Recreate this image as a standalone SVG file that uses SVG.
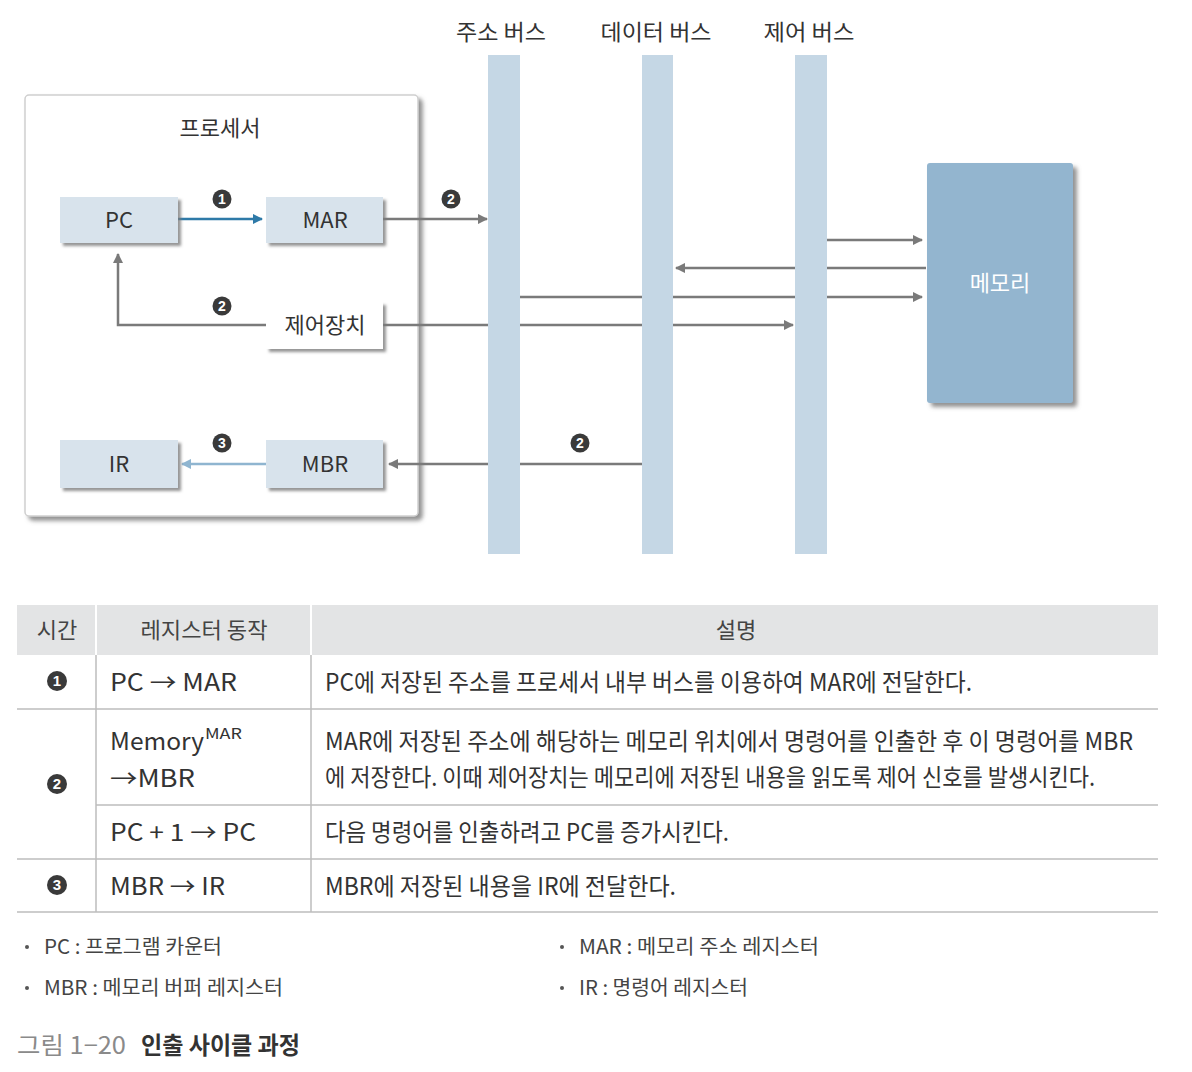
<svg xmlns="http://www.w3.org/2000/svg" width="1192" height="1072" viewBox="0 0 1192 1072">
<defs>
<style>
text{font-family:"Noto Sans CJK KR","Noto Sans",sans-serif;fill:#333;}
.reg{fill:#d8e3ec;}
.bus{fill:#c5d7e5;}
.ln{stroke:#7a7a7a;stroke-width:2.5;fill:none;}
.t22{font-size:22px;}
.t24{font-size:24px;}
.t20{font-size:20px;fill:#444;}
.num{font-size:14px;font-weight:bold;fill:#fff;font-family:"Liberation Sans",Arial,sans-serif;}
.dot{fill:#3a3a3a;}
.row{stroke:#bdbdbd;stroke-width:1.5;}
</style>
<filter id="sh" x="-10%" y="-10%" width="130%" height="140%">
<feDropShadow dx="3" dy="3" stdDeviation="1.5" flood-color="#7a7a7a" flood-opacity="0.8"/>
</filter>
<filter id="shb" x="-10%" y="-10%" width="130%" height="130%">
<feDropShadow dx="4" dy="4" stdDeviation="2" flood-color="#777" flood-opacity="0.8"/>
</filter>
<marker id="ag" viewBox="0 0 10 10" refX="9" refY="5" markerWidth="4.2" markerHeight="4.2" orient="auto" markerUnits="strokeWidth">
<path d="M0,0L10,5L0,10z" fill="#7a7a7a"/>
</marker>
<marker id="ab" viewBox="0 0 10 10" refX="9" refY="5" markerWidth="4.2" markerHeight="4.2" orient="auto" markerUnits="strokeWidth">
<path d="M0,0L10,5L0,10z" fill="#2e7aa8"/>
</marker>
<marker id="al" viewBox="0 0 10 10" refX="9" refY="5" markerWidth="4.2" markerHeight="4.2" orient="auto" markerUnits="strokeWidth">
<path d="M0,0L10,5L0,10z" fill="#8fb5d0"/>
</marker>
</defs>
<rect width="1192" height="1072" fill="#fff"/>

<g id="processor">
<rect x="25" y="95" width="393" height="421" rx="4" fill="#fff" stroke="#cfcfcf" stroke-width="1.5" filter="url(#shb)"/>
<text x="220" y="136" text-anchor="middle" class="t22">프로세서</text>
</g>

<g id="connectors">
<line x1="178" y1="219" x2="262" y2="219" stroke="#2e7aa8" stroke-width="2.5" marker-end="url(#ab)"/>
<line class="ln" x1="383" y1="219" x2="487" y2="219" marker-end="url(#ag)"/>
<polyline class="ln" points="266,325 118,325 118,254" marker-end="url(#ag)"/>
<line class="ln" x1="383" y1="325" x2="793" y2="325" marker-end="url(#ag)"/>
<line class="ln" x1="520" y1="297" x2="922" y2="297" marker-end="url(#ag)"/>
<line class="ln" x1="926" y1="268" x2="676" y2="268" marker-end="url(#ag)"/>
<line class="ln" x1="827" y1="240" x2="922" y2="240" marker-end="url(#ag)"/>
<line class="ln" x1="642" y1="464" x2="389" y2="464" marker-end="url(#ag)"/>
<line x1="266" y1="464" x2="182" y2="464" stroke="#8fb5d0" stroke-width="2.5" marker-end="url(#al)"/>
<circle class="dot" cx="222" cy="199" r="9.5"/><text class="num" x="222" y="204" text-anchor="middle">1</text>
<circle class="dot" cx="451" cy="199" r="9.5"/><text class="num" x="451" y="204" text-anchor="middle">2</text>
<circle class="dot" cx="222" cy="306" r="9.5"/><text class="num" x="222" y="311" text-anchor="middle">2</text>
<circle class="dot" cx="222" cy="443" r="9.5"/><text class="num" x="222" y="448" text-anchor="middle">3</text>
<circle class="dot" cx="580" cy="443" r="9.5"/><text class="num" x="580" y="448" text-anchor="middle">2</text>
</g>

<g id="address-bus">
<rect class="bus" x="488" y="55" width="32" height="499"/>
<text x="501" y="40" text-anchor="middle" class="t22" textLength="90" lengthAdjust="spacingAndGlyphs">주소 버스</text>
</g>
<g id="data-bus">
<rect class="bus" x="642" y="55" width="31" height="499"/>
<text x="656" y="40" text-anchor="middle" class="t22" textLength="111" lengthAdjust="spacingAndGlyphs">데이터 버스</text>
</g>
<g id="control-bus">
<rect class="bus" x="795" y="55" width="32" height="499"/>
<text x="809" y="40" text-anchor="middle" class="t22" textLength="91" lengthAdjust="spacingAndGlyphs">제어 버스</text>
</g>

<g id="pc">
<rect class="reg" x="60" y="197" width="118" height="46" filter="url(#sh)"/>
<text x="119" y="228" text-anchor="middle" class="t22">PC</text>
</g>
<g id="mar">
<rect class="reg" x="266" y="197" width="117" height="46" filter="url(#sh)"/>
<text x="325" y="228" text-anchor="middle" class="t22">MAR</text>
</g>
<g id="control-unit">
<rect x="266" y="302" width="117" height="47" fill="#fff" filter="url(#sh)"/>
<text x="325" y="333" text-anchor="middle" class="t22">제어장치</text>
</g>
<g id="ir">
<rect class="reg" x="60" y="440" width="118" height="48" filter="url(#sh)"/>
<text x="119" y="472" text-anchor="middle" class="t22">IR</text>
</g>
<g id="mbr">
<rect class="reg" x="266" y="440" width="117" height="48" filter="url(#sh)"/>
<text x="325" y="472" text-anchor="middle" class="t22">MBR</text>
</g>
<g id="memory">
<rect x="927" y="163" width="146" height="240" rx="3" fill="#93b5cf" filter="url(#shb)"/>
<text x="1000" y="291" text-anchor="middle" class="t22" style="fill:#fff">메모리</text>
</g>

<g id="table">
<rect x="17" y="605" width="1141" height="50" fill="#e3e4e5"/>
<line x1="96" y1="605" x2="96" y2="655" stroke="#fff" stroke-width="2"/>
<line x1="311" y1="605" x2="311" y2="655" stroke="#fff" stroke-width="2"/>
<text x="57" y="638" text-anchor="middle" class="t22" style="fill:#444">시간</text>
<text x="204" y="638" text-anchor="middle" class="t22" style="fill:#444" textLength="127" lengthAdjust="spacingAndGlyphs">레지스터 동작</text>
<text x="736" y="638" text-anchor="middle" class="t22" style="fill:#444">설명</text>
<line class="row" x1="17" y1="709" x2="1158" y2="709"/>
<line class="row" x1="96" y1="805" x2="1158" y2="805"/>
<line class="row" x1="17" y1="859" x2="1158" y2="859"/>
<line class="row" x1="17" y1="912" x2="1158" y2="912"/>
<line class="row" x1="96" y1="655" x2="96" y2="912"/>
<line class="row" x1="311" y1="655" x2="311" y2="912"/>
<circle class="dot" cx="57" cy="681" r="10"/><text class="num" x="57" y="686" text-anchor="middle" style="font-size:15px">1</text>
<circle class="dot" cx="57" cy="784" r="10"/><text class="num" x="57" y="789" text-anchor="middle" style="font-size:15px">2</text>
<circle class="dot" cx="57" cy="885" r="10"/><text class="num" x="57" y="890" text-anchor="middle" style="font-size:15px">3</text>
<text x="110" y="691" class="t24" textLength="127" lengthAdjust="spacingAndGlyphs">PC → MAR</text>
<text x="110" y="750" class="t24" textLength="94" lengthAdjust="spacingAndGlyphs">Memory</text>
<text x="205" y="739" style="font-size:15px" textLength="37" lengthAdjust="spacingAndGlyphs">MAR</text>
<text x="110" y="787" class="t24" textLength="85" lengthAdjust="spacingAndGlyphs">→MBR</text>
<text x="110" y="841" class="t24" textLength="146" lengthAdjust="spacingAndGlyphs">PC + 1 → PC</text>
<text x="110" y="895" class="t24" textLength="115" lengthAdjust="spacingAndGlyphs">MBR → IR</text>
<text x="325" y="691" class="t24" textLength="647" lengthAdjust="spacingAndGlyphs">PC에 저장된 주소를 프로세서 내부 버스를 이용하여 MAR에 전달한다.</text>
<text x="325" y="750" class="t24" textLength="808" lengthAdjust="spacingAndGlyphs">MAR에 저장된 주소에 해당하는 메모리 위치에서 명령어를 인출한 후 이 명령어를 MBR</text>
<text x="325" y="786" class="t24" textLength="770" lengthAdjust="spacingAndGlyphs">에 저장한다. 이때 제어장치는 메모리에 저장된 내용을 읽도록 제어 신호를 발생시킨다.</text>
<text x="325" y="841" class="t24" textLength="404" lengthAdjust="spacingAndGlyphs">다음 명령어를 인출하려고 PC를 증가시킨다.</text>
<text x="325" y="895" class="t24" textLength="351" lengthAdjust="spacingAndGlyphs">MBR에 저장된 내용을 IR에 전달한다.</text>
</g>

<g id="legend">
<circle cx="27" cy="947" r="2" fill="#555"/>
<text x="44" y="954" class="t20" textLength="178" lengthAdjust="spacingAndGlyphs">PC : 프로그램 카운터</text>
<circle cx="27" cy="988" r="2" fill="#555"/>
<text x="44" y="995" class="t20" textLength="239" lengthAdjust="spacingAndGlyphs">MBR : 메모리 버퍼 레지스터</text>
<circle cx="562" cy="947" r="2" fill="#555"/>
<text x="579" y="954" class="t20" textLength="240" lengthAdjust="spacingAndGlyphs">MAR : 메모리 주소 레지스터</text>
<circle cx="562" cy="988" r="2" fill="#555"/>
<text x="579" y="995" class="t20" textLength="169" lengthAdjust="spacingAndGlyphs">IR : 명령어 레지스터</text>
</g>

<g id="caption">
<text x="17" y="1054" style="font-size:24px;fill:#8a8a8a" textLength="109" lengthAdjust="spacingAndGlyphs">그림 1−20</text>
<text x="141" y="1054" style="font-size:24px;font-weight:bold;fill:#333" textLength="159" lengthAdjust="spacingAndGlyphs">인출 사이클 과정</text>
</g>
</svg>
